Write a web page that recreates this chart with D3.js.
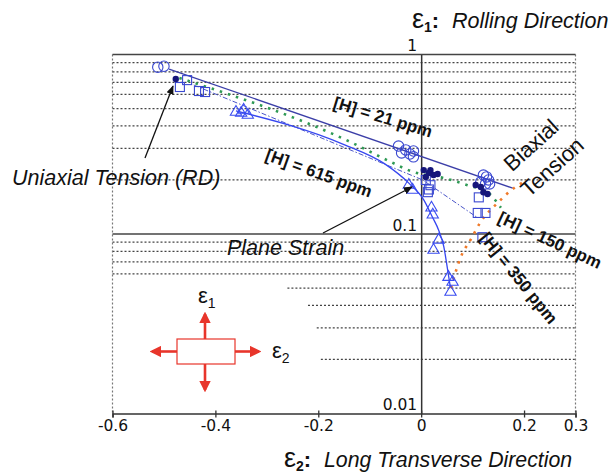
<!DOCTYPE html>
<html><head><meta charset="utf-8">
<script src="https://cdn.jsdelivr.net/npm/d3@7"></script>
<style>
html,body{margin:0;padding:0;background:#fff;}
svg{display:block;}
</style></head>
<body>
<svg id="chart" width="608" height="474"></svg>
<script>
// ---------- data ----------
const xTicks = [-0.6, -0.4, -0.2, 0, 0.2, 0.3];
const yLabels = [1, 0.1, 0.01];
const gridFull = [0.9, 0.8, 0.7, 0.6, 0.5, 0.4, 0.3, 0.2, 0.09, 0.08, 0.07, 0.06];
const gridPartial = [0.05, 0.04, 0.03, 0.02];
const gridPartialFrom = [-0.26, -0.22, -0.203, -0.195];

// [H] = 21 ppm : open circles
const h21Points = [[-0.512, 0.85], [-0.50, 0.86],
  [-0.044, 0.309], [-0.038, 0.283], [-0.030, 0.294], [-0.022, 0.279], [-0.015, 0.29], [-0.015, 0.269],
  [0.121, 0.213], [0.131, 0.2], [0.125, 0.19], [0.116, 0.195], [0.133, 0.19], [0.127, 0.208]];
const h21Line = [[-0.49, 0.83], [0.178, 0.18]];

// [H] = 150 ppm : filled dots
const h150Points = [[-0.477, 0.73],
  [0.005, 0.227], [0.018, 0.227], [0.024, 0.213], [0.009, 0.208], [0.015, 0.219], [0.032, 0.216],
  [0.106, 0.1875], [0.116, 0.183], [0.121, 0.171], [0.129, 0.167]];
const h150Line = [[-0.47, 0.74], [-0.137, 0.325], [-0.059, 0.252], [-0.02, 0.224], [0.05, 0.203],
  [0.09, 0.187], [0.13, 0.17], [0.155, 0.14]];

// [H] = 350 ppm : open squares
const h350Points = [[-0.455, 0.72], [-0.469, 0.659], [-0.432, 0.626], [-0.42, 0.618],
  [0.009, 0.2], [0.018, 0.187], [0.013, 0.171], [0.015, 0.177],
  [0.112, 0.16], [0.11, 0.131], [0.125, 0.131], [0.119, 0.096]];
const h350Line = [[-0.442, 0.676], [0.003, 0.2], [0.11, 0.123]];

// [H] = 615 ppm : open triangles
const h615Points = [[-0.36, 0.478], [-0.35, 0.472], [-0.345, 0.491], [-0.337, 0.46],
  [-0.024, 0.1875], [-0.0165, 0.176], [0.020, 0.14], [0.0225, 0.128], [0.034, 0.0927],
  [0.024, 0.0814], [0.053, 0.0575], [0.061, 0.054], [0.057, 0.0475]];
const h615Line = [[-0.36, 0.485], [-0.15, 0.315], [-0.07, 0.245], [-0.024, 0.192], [0.005, 0.155],
  [0.022, 0.124], [0.034, 0.105], [0.044, 0.085], [0.0515, 0.063], [0.057, 0.05]];

// forming limit (orange dotted)
const fldLine = [[0.058, 0.05], [0.077, 0.0744], [0.096, 0.0927], [0.1155, 0.1167], [0.1485, 0.149],
  [0.1835, 0.183], [0.199, 0.195]];

// ---------- drawing ----------
const svg = d3.select("#chart");
const X0 = 112.5, X1 = 575.5, Y0 = 54.5, Y1 = 413.5;
const x = d3.scaleLinear().domain([-0.6, 0.3]).range([X0, X1]);
const y = d3.scaleLog().domain([0.01, 1]).range([Y1, Y0]);
const FONT = "'Liberation Sans', Arial, sans-serif";
const GRID = "#444";

// gridlines
svg.append("g").selectAll("line").data(gridFull).join("line")
  .attr("x1", X0).attr("x2", X1)
  .attr("y1", d => y(d)).attr("y2", d => y(d))
  .attr("stroke", GRID).attr("stroke-width", 1.3).attr("stroke-dasharray", "2,2");
svg.append("g").selectAll("line").data(gridPartial).join("line")
  .attr("x1", (d, i) => x(gridPartialFrom[i])).attr("x2", X1)
  .attr("y1", d => y(d)).attr("y2", d => y(d))
  .attr("stroke", GRID).attr("stroke-width", 1.3).attr("stroke-dasharray", "2,2");

// frame
svg.append("line").attr("x1", X0).attr("x2", X0).attr("y1", Y0).attr("y2", Y1)
  .attr("stroke", "#777").attr("stroke-width", 1.2).attr("stroke-dasharray", "2,2");
svg.append("line").attr("x1", X1).attr("x2", X1).attr("y1", Y0).attr("y2", Y1)
  .attr("stroke", "#777").attr("stroke-width", 1.2).attr("stroke-dasharray", "2,2");
svg.append("line").attr("x1", X0).attr("x2", X1).attr("y1", Y0).attr("y2", Y0)
  .attr("stroke", "#444").attr("stroke-width", 1.5);
svg.append("line").attr("x1", X0).attr("x2", X1).attr("y1", y(0.1)).attr("y2", y(0.1))
  .attr("stroke", "#444").attr("stroke-width", 1.5);

// x axis
const xAxis = svg.append("g").attr("transform", `translate(0,${Y1})`)
  .call(d3.axisBottom(x).tickValues(xTicks).tickSizeOuter(0).tickSize(4)
    .tickFormat(d => d === 0 ? "0" : d3.format(".1f")(d).replace("−", "-")));
xAxis.select(".domain").attr("stroke", "#333").attr("stroke-width", 1.5);
xAxis.selectAll(".tick line").attr("y1", -3).attr("y2", 4).attr("stroke", "#333").attr("stroke-width", 1.3);
xAxis.selectAll(".tick text").attr("y", 17).attr("dy", 0)
  .attr("font-family", "'DejaVu Sans', Verdana, sans-serif").attr("font-size", 15.5).attr("fill", "#111");

// y axis (vertical line at x = 0)
const yAxis = svg.append("g").attr("transform", `translate(${x(0)},0)`)
  .call(d3.axisLeft(y).tickValues(yLabels).tickSize(0).tickPadding(4)
    .tickFormat(d => String(d)));
yAxis.select(".domain").attr("stroke", "#333").attr("stroke-width", 1.5);
yAxis.selectAll(".tick text").attr("dy", -4)
  .attr("font-family", "'DejaVu Sans', Verdana, sans-serif").attr("font-size", 15.5).attr("fill", "#111");

// lines
const line = d3.line().x(d => x(d[0])).y(d => y(d[1]));
const curve = d3.line().x(d => x(d[0])).y(d => y(d[1])).curve(d3.curveMonotoneX);

svg.append("path").attr("d", line(h21Line)).attr("fill", "none")
  .attr("stroke", "#3c3fa8").attr("stroke-width", 1.3);
svg.append("path").attr("d", curve(h150Line)).attr("fill", "none")
  .attr("stroke", "#2f9a55").attr("stroke-width", 2.6).attr("stroke-dasharray", "2.5,6");
svg.append("path").attr("d", line(h350Line)).attr("fill", "none")
  .attr("stroke", "#4a55c8").attr("stroke-width", 1).attr("stroke-dasharray", "5,2,1.5,2");
svg.append("path").attr("d", curve(h615Line)).attr("fill", "none")
  .attr("stroke", "#3646f0").attr("stroke-width", 1.3);
svg.append("path").attr("d", curve(fldLine)).attr("fill", "none")
  .attr("stroke", "#f07a2a").attr("stroke-width", 2.6).attr("stroke-dasharray", "2.5,6");

// markers
const MK = "#3a48d0";
svg.append("g").selectAll("circle").data(h21Points).join("circle")
  .attr("cx", d => x(d[0])).attr("cy", d => y(d[1])).attr("r", 5.2)
  .attr("fill", "none").attr("stroke", MK).attr("stroke-width", 1.1);
svg.append("g").selectAll("rect").data(h350Points).join("rect")
  .attr("x", d => x(d[0]) - 4.5).attr("y", d => y(d[1]) - 4.5).attr("width", 9).attr("height", 9)
  .attr("fill", "none").attr("stroke", MK).attr("stroke-width", 1.1);
const tri = d3.symbol().type(d3.symbolTriangle).size(55);
svg.append("g").selectAll("path").data(h615Points).join("path")
  .attr("transform", d => `translate(${x(d[0])},${y(d[1])})`).attr("d", tri)
  .attr("fill", "none").attr("stroke", "#3a4cf0").attr("stroke-width", 1.1);
svg.append("g").selectAll("circle").data(h150Points).join("circle")
  .attr("cx", d => x(d[0])).attr("cy", d => y(d[1])).attr("r", 3.2)
  .attr("fill", "#16167a");

// arrow marker
const defs = svg.append("defs");
defs.append("marker").attr("id", "ah").attr("viewBox", "0 0 10 10").attr("refX", 9).attr("refY", 5)
  .attr("markerWidth", 7).attr("markerHeight", 7).attr("orient", "auto-start-reverse")
  .append("path").attr("d", "M0,1 L10,5 L0,9 Z").attr("fill", "#111");
defs.append("marker").attr("id", "rh").attr("viewBox", "0 0 10 10").attr("refX", 8).attr("refY", 5)
  .attr("markerWidth", 4.5).attr("markerHeight", 4.5).attr("orient", "auto")
  .append("path").attr("d", "M0,0 L10,5 L0,10 Z").attr("fill", "#e8352b");

// annotation arrows
svg.append("line").attr("x1", 145).attr("y1", 158).attr("x2", 173).attr("y2", 86)
  .attr("stroke", "#111").attr("stroke-width", 1.3).attr("marker-end", "url(#ah)");
svg.append("line").attr("x1", 323).attr("y1", 233).attr("x2", 412).attr("y2", 187)
  .attr("stroke", "#111").attr("stroke-width", 1.3).attr("marker-end", "url(#ah)");

// annotation texts
svg.append("text").attr("x", 12).attr("y", 185).text("Uniaxial Tension (RD)")
  .attr("font-family", FONT).attr("font-style", "italic").attr("font-size", 21.5).attr("fill", "#111");
svg.append("text").attr("x", 227).attr("y", 255).text("Plane Strain")
  .attr("font-family", FONT).attr("font-style", "italic").attr("font-size", 21.5).attr("fill", "#111");

function rotText(t, cx, cy, ang, opts) {
  svg.append("text").attr("transform", `translate(${cx},${cy}) rotate(${ang})`)
    .attr("text-anchor", "middle").attr("dy", "0.35em").text(t)
    .attr("font-family", FONT).attr("font-size", opts.size)
    .attr("font-weight", opts.bold ? "bold" : "normal").attr("fill", "#111");
}
rotText("[H] = 21 ppm", 383, 117, 17, {size: 17, bold: true});
rotText("[H] = 615 ppm", 319, 173, 20, {size: 17, bold: true});
rotText("[H] = 150 ppm", 550, 240, 25, {size: 17, bold: true});
rotText("[H] = 350 ppm", 519, 278, 51, {size: 17, bold: true});
rotText("Biaxial", 531, 145, -42, {size: 22});
rotText("Tension", 552, 167, -42, {size: 22});

// axis titles
function title(tx, ty, sub, label, size) {
  const t = svg.append("text").attr("x", tx).attr("y", ty).attr("font-family", FONT).attr("fill", "#111");
  t.append("tspan").text("ε").attr("font-size", 27);
  t.append("tspan").text(sub).attr("font-size", 14).attr("font-weight", "bold").attr("dy", 4);
  t.append("tspan").text(":").attr("font-size", 22).attr("font-weight", "bold").attr("dy", -4);
  t.append("tspan").text(label).attr("x", tx + 40).attr("font-size", size).attr("font-style", "italic");
}
title(412, 28, "1", "Rolling Direction", 21.5);
title(284, 467, "2", "Long Transverse Direction", 21.3);

// schematic (red)
const RED = "#e8352b";
const sch = svg.append("g");
sch.append("rect").attr("x", 177).attr("y", 339).attr("width", 58).attr("height", 25)
  .attr("fill", "none").attr("stroke", RED).attr("stroke-width", 1.2);
[[205, 339, 205, 314], [205, 364, 205, 390], [177, 351.5, 152, 351.5], [235, 351.5, 259, 351.5]]
  .forEach(a => sch.append("line").attr("x1", a[0]).attr("y1", a[1]).attr("x2", a[2]).attr("y2", a[3])
    .attr("stroke", RED).attr("stroke-width", 2.6).attr("marker-end", "url(#rh)"));
function eps(tx, ty, sub) {
  const t = svg.append("text").attr("x", tx).attr("y", ty).attr("font-family", FONT).attr("fill", "#111");
  t.append("tspan").text("ε").attr("font-size", 22);
  t.append("tspan").text(sub).attr("font-size", 14).attr("dy", 5);
}
eps(198, 303, "1");
eps(272, 358, "2");
</script>
</body></html>
